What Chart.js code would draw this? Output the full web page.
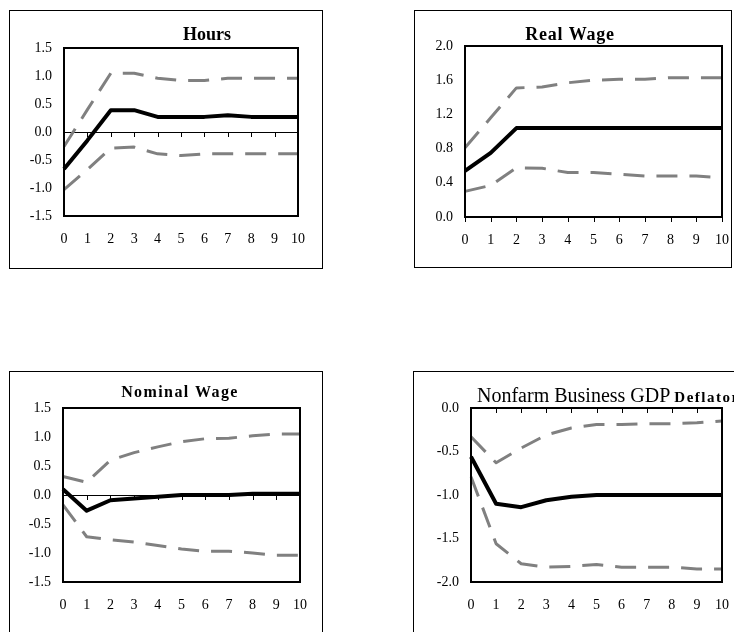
<!DOCTYPE html>
<html>
<head>
<meta charset="utf-8">
<script src="https://cdn.jsdelivr.net/npm/chart.js@4/dist/chart.umd.min.js"></script>
<style>
  html, body { margin: 0; padding: 0; background: #fff; width: 734px; height: 632px; overflow: hidden; position: relative; }
  canvas.panel { position: absolute; }
  .frame { position: absolute; border: 1px solid #000; box-sizing: border-box; pointer-events: none; }
</style>
</head>
<body>
<script>
// Quarters after the shock
const steps = ['0', '1', '2', '3', '4', '5', '6', '7', '8', '9', '10'];

// Hours: point estimate and confidence band
const hoursResponse = [-0.66, -0.15, 0.39, 0.39, 0.27, 0.27, 0.27, 0.30, 0.27, 0.27, 0.27];
const hoursUpper    = [-0.26, 0.40, 1.05, 1.05, 0.96, 0.92, 0.92, 0.96, 0.96, 0.96, 0.96];
const hoursLower    = [-1.03, -0.67, -0.29, -0.27, -0.39, -0.42, -0.39, -0.39, -0.39, -0.39, -0.39];

// Real wage
const realWageResponse = [0.54, 0.75, 1.04, 1.04, 1.04, 1.04, 1.04, 1.04, 1.04, 1.04, 1.04];
const realWageUpper    = [0.81, 1.16, 1.51, 1.52, 1.57, 1.60, 1.61, 1.61, 1.63, 1.63, 1.63];
const realWageLower    = [0.30, 0.37, 0.575, 0.57, 0.52, 0.52, 0.50, 0.48, 0.48, 0.48, 0.46];

// Nominal wage
const nominalWageResponse = [0.10, -0.27, -0.09, -0.06, -0.03, 0.00, 0.00, 0.00, 0.02, 0.02, 0.02];
const nominalWageUpper    = [0.32, 0.22, 0.60, 0.73, 0.83, 0.92, 0.97, 0.98, 1.02, 1.05, 1.05];
const nominalWageLower    = [-0.17, -0.72, -0.77, -0.81, -0.87, -0.93, -0.97, -0.97, -1.00, -1.04, -1.04];

// Nonfarm business GDP deflator
const deflatorResponse = [-0.56, -1.10, -1.14, -1.06, -1.02, -1.00, -1.00, -1.00, -1.00, -1.00, -1.00];
const deflatorUpper    = [-0.33, -0.63, -0.46, -0.31, -0.23, -0.19, -0.19, -0.18, -0.18, -0.17, -0.15];
const deflatorLower    = [-0.79, -1.56, -1.79, -1.83, -1.82, -1.80, -1.83, -1.83, -1.83, -1.85, -1.85];

// Value axes: [min, max, step]
const hoursAxis       = [-1.5, 1.5, 0.5];
const realWageAxis    = [0.0, 2.0, 0.4];
const nominalWageAxis = [-1.5, 1.5, 0.5];
const deflatorAxis    = [-2.0, 0.0, 0.5];

const SERIF = "'Liberation Serif', 'Times New Roman', serif";
const tickFont = { family: SERIF, size: 14 };

// Title drawn from one or more text runs with their own fonts
const panelTitle = {
  id: 'panelTitle',
  afterDraw(chart, args, opts) {
    if (!opts || !opts.parts) return;
    const ctx = chart.ctx;
    ctx.save();
    ctx.fillStyle = '#000';
    ctx.textBaseline = 'alphabetic';
    ctx.textAlign = 'left';
    const widths = opts.parts.map(p => {
      ctx.font = p.font;
      ctx.letterSpacing = p.spacing || '0px';
      return ctx.measureText(p.text).width;
    });
    const total = widths.reduce((a, b) => a + b, 0) + (opts.gap || 0) * (opts.parts.length - 1);
    let x = opts.align === 'center' ? opts.x - total / 2 : opts.x;
    opts.parts.forEach((p, i) => {
      ctx.font = p.font;
      ctx.letterSpacing = p.spacing || '0px';
      ctx.fillText(p.text, x, opts.y);
      x += widths[i] + (opts.gap || 0);
    });
    ctx.restore();
  }
};

// Box around the plot area
const plotFrame = {
  id: 'plotFrame',
  afterDraw(chart) {
    const a = chart.chartArea;
    const ctx = chart.ctx;
    ctx.save();
    ctx.strokeStyle = '#000';
    ctx.lineWidth = 2;
    ctx.strokeRect(a.left, a.top, a.right - a.left, a.bottom - a.top);
    ctx.restore();
  }
};

// Small tick marks hanging from the zero line at each step
const zeroTicks = {
  id: 'zeroTicks',
  afterDraw(chart) {
    const xs = chart.scales.x, ys = chart.scales.y;
    const y0 = ys.getPixelForValue(0);
    const ctx = chart.ctx;
    ctx.save();
    ctx.strokeStyle = '#000';
    ctx.lineWidth = 1;
    ctx.beginPath();
    chart.data.labels.forEach((_, i) => {
      const x = Math.round(xs.getPixelForValue(i)) + 0.5;
      ctx.moveTo(x, y0);
      ctx.lineTo(x, y0 + 5);
    });
    ctx.stroke();
    ctx.restore();
  }
};

Chart.register(panelTitle, plotFrame, zeroTicks);

function buildPanel(p) {
  const canvas = document.createElement('canvas');
  canvas.className = 'panel';
  canvas.width = p.box.w;
  canvas.height = p.box.h;
  canvas.style.left = p.box.x + 'px';
  canvas.style.top = p.box.y + 'px';
  canvas.style.width = p.box.w + 'px';
  canvas.style.height = p.box.h + 'px';
  document.body.appendChild(canvas);

  const frame = document.createElement('div');
  frame.className = 'frame';
  frame.style.left = p.box.x + 'px';
  frame.style.top = p.box.y + 'px';
  frame.style.width = p.box.w + 'px';
  frame.style.height = p.box.h + 'px';
  document.body.appendChild(frame);

  const axisW = p.plot.left - p.box.x;
  const padTop = p.plot.top - p.box.y;
  const padRight = p.box.x + p.box.w - p.plot.right;
  const xAxisH = 40;
  const padBottom = p.box.y + p.box.h - p.plot.bottom - xAxisH;

  new Chart(canvas, {
    type: 'line',
    data: {
      labels: steps,
      datasets: [
        { data: p.mid, borderColor: '#000', borderWidth: 4 },
        { data: p.upper, borderColor: '#808080', borderWidth: 3, borderDash: [21, 12] },
        { data: p.lower, borderColor: '#808080', borderWidth: 3, borderDash: [21, 12] }
      ]
    },
    options: {
      responsive: false,
      animation: false,
      events: [],
      devicePixelRatio: 1,
      layout: { padding: { top: padTop, left: 0, right: padRight, bottom: padBottom } },
      elements: {
        point: { radius: 0 },
        line: { tension: 0, borderJoinStyle: 'round', borderCapStyle: 'butt', fill: false }
      },
      scales: {
        x: {
          type: 'category',
          offset: false,
          grid: { display: false, drawTicks: false },
          border: { display: false },
          ticks: { font: tickFont, color: '#000', padding: 15, maxRotation: 0, autoSkip: false },
          afterFit(s) { s.height = xAxisH; s.paddingLeft = 0; s.paddingRight = 0; }
        },
        y: {
          min: p.axis[0],
          max: p.axis[1],
          grid: {
            drawTicks: false,
            lineWidth: 1,
            color: c => (c.tick && Math.abs(c.tick.value) < 1e-9) ? '#000' : 'rgba(0,0,0,0)'
          },
          border: { display: false },
          ticks: {
            stepSize: p.axis[2],
            font: tickFont,
            color: '#000',
            padding: 12,
            callback: v => (Math.abs(v) < 1e-9 ? 0 : v).toFixed(1)
          },
          afterFit(s) { s.width = axisW; s.paddingTop = 0; s.paddingBottom = 0; }
        }
      },
      plugins: {
        legend: { display: false },
        tooltip: { enabled: false },
        title: { display: false },
        panelTitle: p.title
      }
    }
  });
}

buildPanel({
  box: { x: 9, y: 10, w: 314, h: 259 },
  plot: { left: 64, top: 48, right: 298, bottom: 216 },
  axis: hoursAxis,
  mid: hoursResponse, upper: hoursUpper, lower: hoursLower,
  title: { align: 'center', x: 198, y: 30, parts: [{ text: 'Hours', font: 'bold 18px ' + SERIF }] }
});

buildPanel({
  box: { x: 414, y: 10, w: 318, h: 258 },
  plot: { left: 465, top: 46, right: 722, bottom: 217 },
  axis: realWageAxis,
  mid: realWageResponse, upper: realWageUpper, lower: realWageLower,
  title: { align: 'center', x: 156, y: 30, parts: [{ text: 'Real Wage', font: 'bold 18px ' + SERIF, spacing: '0.8px' }] }
});

buildPanel({
  box: { x: 9, y: 371, w: 314, h: 275 },
  plot: { left: 63, top: 408, right: 300, bottom: 582 },
  axis: nominalWageAxis,
  mid: nominalWageResponse, upper: nominalWageUpper, lower: nominalWageLower,
  title: { align: 'center', x: 171, y: 26, parts: [{ text: 'Nominal Wage', font: 'bold 16px ' + SERIF, spacing: '1.4px' }] }
});

buildPanel({
  box: { x: 413, y: 371, w: 331, h: 275 },
  plot: { left: 471, top: 408, right: 722, bottom: 582 },
  axis: deflatorAxis,
  mid: deflatorResponse, upper: deflatorUpper, lower: deflatorLower,
  title: {
    align: 'left', x: 64, y: 30.5, gap: 4,
    parts: [
      { text: 'Nonfarm Business GDP', font: '20px ' + SERIF },
      { text: 'Deflator', font: 'bold 15px ' + SERIF, spacing: '1.5px' }
    ]
  }
});
</script>
</body>
</html>
